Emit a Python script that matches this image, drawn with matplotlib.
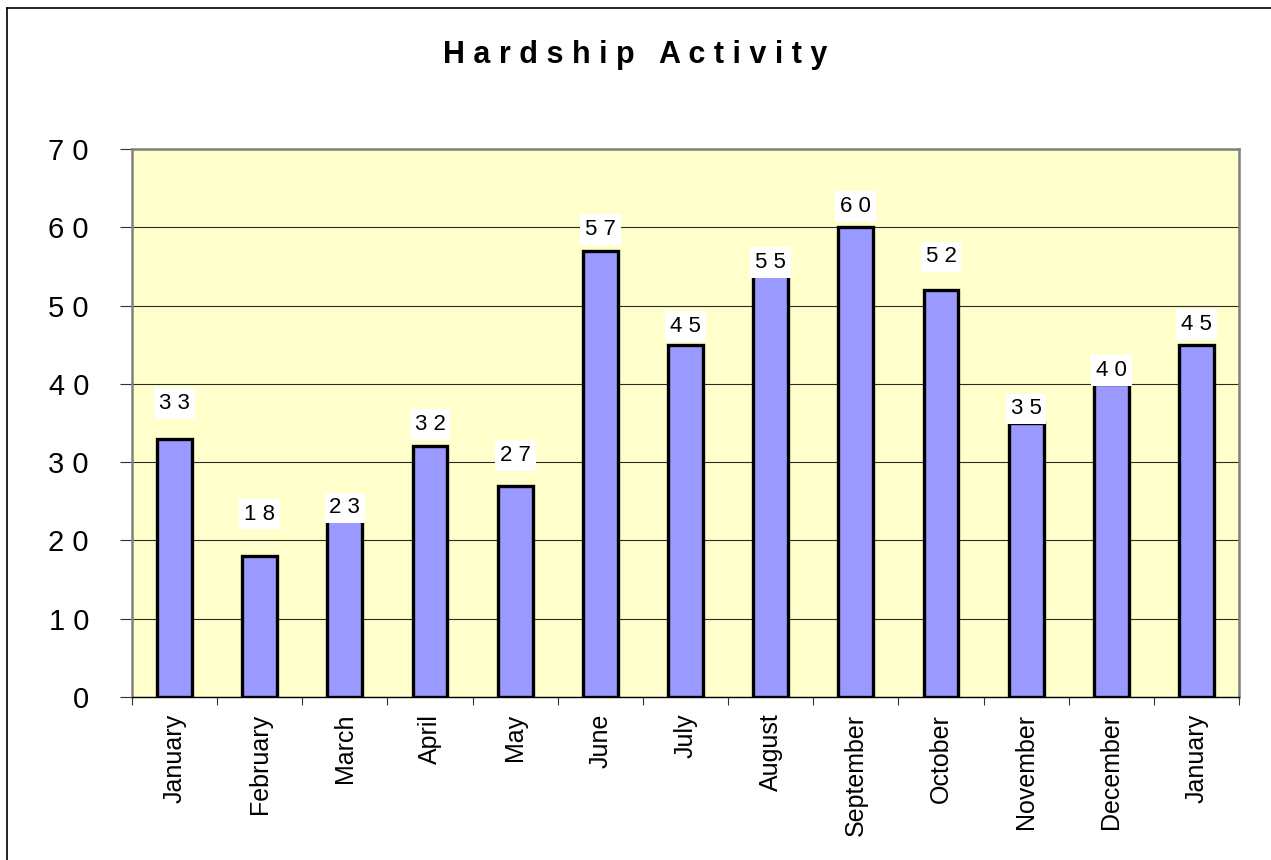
import matplotlib
matplotlib.use("Agg")
from matplotlib import pyplot as plt
from matplotlib.lines import Line2D

plt.rcParams["font.family"] = ["Liberation Sans", "DejaVu Sans"]

months = ["January", "February", "March", "April", "May", "June", "July",
          "August", "September", "October", "November", "December", "January"]
counts = [33, 18, 23, 32, 27, 57, 45, 55, 60, 52, 35, 40, 45]
y_ticks = [0, 10, 20, 30, 40, 50, 60, 70]

# how far each value label sits above its bar (pixels), as in the original
label_lift_px = [35, 42, 9, 22, 30, 21, 18, 4, 21, 33, 14, 13, 20]


def spaced(s):
    return " ".join(s)


fig = plt.figure(figsize=(12.71, 8.6), dpi=100)
ax = fig.add_axes([132 / 1271, 1 - 697 / 860, (1239 - 132) / 1271, (697 - 149) / 860])

x = list(range(len(months)))
ax.set_facecolor("#FFFFCC")
ax.bar(x, counts, width=0.41, color="#9999FF", edgecolor="black", linewidth=2.4, zorder=3)

for xi, v, lift in zip(x, counts, label_lift_px):
    ax.annotate(spaced(str(v)), (xi, v), xytext=(0, lift * 0.72), textcoords="offset points",
                ha="center", va="center", fontsize=16, zorder=5,
                bbox=dict(boxstyle="square,pad=0.22", fc="white", ec="none"))

ax.set_xlim(-0.5, len(months) - 0.5)
ax.set_ylim(0, 70)
ax.set_yticks(y_ticks)
ax.set_yticklabels([spaced(str(t)) for t in y_ticks], fontsize=21)
ax.yaxis.grid(True, color="#2a2a2a", linewidth=0.8, zorder=0)
ax.set_axisbelow(True)

ax.set_xticks([i + 0.5 for i in range(-1, len(months))], minor=False)
ax.set_xticklabels([])
ax.set_xticks(x, minor=True)
ax.set_xticklabels(months, minor=True, rotation=90, fontsize=18, va="top", ha="center")
ax.tick_params(axis="x", which="major", length=6, width=0.8, color="#333333")
ax.tick_params(axis="x", which="minor", length=0, pad=12)
ax.tick_params(axis="y", length=9, width=0.8, pad=22, color="#333333")

for side in ["left", "top", "right"]:
    ax.spines[side].set_color("#808080")
    ax.spines[side].set_linewidth(1.8)
ax.spines["bottom"].set_color("black")
ax.spines["bottom"].set_linewidth(1.0)

fig.text(0.5, 1 - 63 / 860, spaced("Hardship") + "   " + spaced("Activity"),
         ha="center", va="baseline", fontsize=22, fontweight="bold")

# outer chart frame (left and top edges visible in the original)
fig.add_artist(Line2D([7 / 1271, 7 / 1271], [0, 1 - 8 / 860], color="black", linewidth=1.2))
fig.add_artist(Line2D([7 / 1271, 1], [1 - 8 / 860, 1 - 8 / 860], color="black", linewidth=1.2))

fig.savefig("out.png", dpi=100)
